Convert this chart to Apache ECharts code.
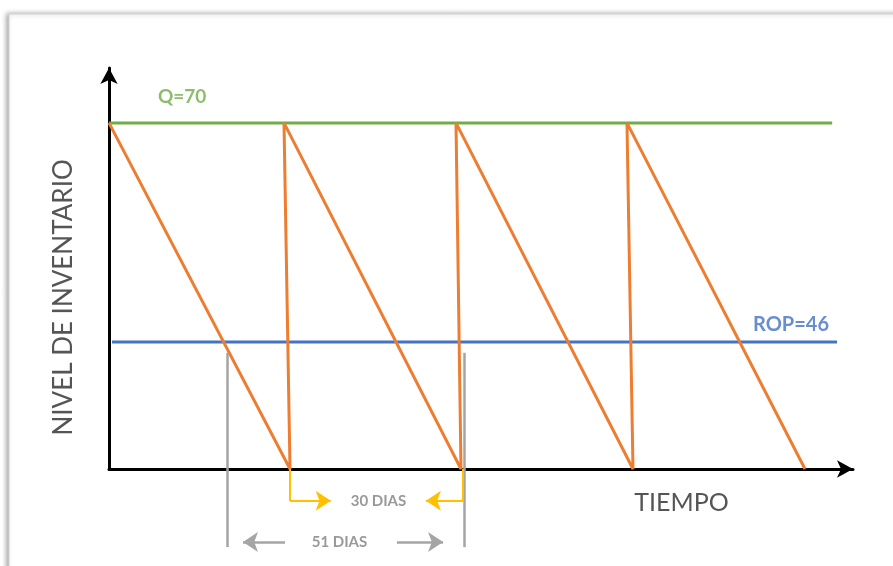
<!DOCTYPE html>
<html>
<head>
<meta charset="utf-8">
<script src="https://cdn.jsdelivr.net/npm/echarts@6/dist/echarts.min.js"></script>
<style>
html,body{margin:0;padding:0;background:#fff;}
#chart{width:893px;height:566px;}
</style>
</head>
<body>
<div id="chart"></div>
<script>
// ---- values (schematic units: Q level = 70, time axis 0..100) ----
const sawTime  = [0, 24.33, 23.52, 47.31, 46.64, 70.43, 69.62, 93.55];
const sawLevel = [70, 0, 70, 0, 70, 0, 70, 0];

const qLabel = 'Q=70';
const qLevel = 70;
const qSpan  = [0, 97.2];

const ropLabel = 'ROP=46';
const ropLevel = 25.7;          // visual height of the ROP line in the picture
const ropSpan  = [0.4, 97.85];

// lead-time markers (gray) and order-cycle markers (yellow)
const grayMarkX   = [15.86, 47.72];
const grayMarkY   = [23.5, -15.8];
const yellowMarkX = [24.33, 47.58];
const yellowMarkY = [0, -6.41];
const yellowArrowEndX = [29.8, 42.6];
const grayArrowY = -14.77;
const grayArrowsX = [[23.66, 18.01], [38.7, 44.9]];

const annoText = ['30 DIAS', '51 DIAS', 'TIEMPO'];
const annoX    = [36.22, 30.98, 76.95];
const annoY    = [-6.41, -14.77, -6.88];
const qLabelPos   = [9.83, 75.2];
const ropLabelPos = [91.67, 29.3];
const yTitle = 'NIVEL DE INVENTARIO';
const yTitlePos = [-6.05, 34.7];

const xMax = 100, yMax = 81.1;

// ---- chart ----
const chart = echarts.init(document.getElementById('chart'), null, {renderer: 'canvas'});
const FONT = 'Lato, "Open Sans", sans-serif';

function pts(xs, ys) { return xs.map((x, i) => [x, ys[i]]); }

const yellowStems = yellowMarkX.map(x => ({coords: [[x, yellowMarkY[0]], [x, yellowMarkY[1]]]}));
const yellowHeads = yellowMarkX.map((x, i) => ({coords: [[x, yellowMarkY[1]], [yellowArrowEndX[i], yellowMarkY[1]]]}));

const option = {
  animation: false,
  backgroundColor: '#fff',
  graphic: [{
    type: 'rect', z: -10, silent: true,
    shape: {x: 9, y: 14, width: 1000, height: 700},
    style: {fill: '#fff', stroke: '#d4d4d4', lineWidth: 1,
            shadowBlur: 5, shadowColor: 'rgba(0,0,0,0.35)', shadowOffsetX: -2, shadowOffsetY: 0}
  }],
  grid: {left: 109, top: 68, right: 40, bottom: 97},
  xAxis: {
    type: 'value', min: 0, max: xMax,
    axisLine: {show: true, lineStyle: {color: '#000', width: 3}, symbol: ['none', 'arrow'], symbolSize: [13, 16]},
    axisTick: {show: false}, axisLabel: {show: false}, splitLine: {show: false}
  },
  yAxis: {
    type: 'value', min: 0, max: yMax,
    axisLine: {show: true, lineStyle: {color: '#000', width: 3}, symbol: ['none', 'arrow'], symbolSize: [13, 16]},
    axisTick: {show: false}, axisLabel: {show: false}, splitLine: {show: false}
  },
  series: [
    {
      type: 'line', name: 'Q', symbol: 'none', z: 3,
      data: [[qSpan[0], qLevel], [qSpan[1], qLevel]],
      lineStyle: {color: '#70AD47', width: 3}
    },
    {
      type: 'line', name: 'ROP', symbol: 'none', z: 3,
      data: [[ropSpan[0], ropLevel], [ropSpan[1], ropLevel]],
      lineStyle: {color: '#4472C4', width: 3}
    },
    {
      type: 'lines', coordinateSystem: 'cartesian2d', clip: false, z: 2,
      symbol: ['none', 'none'],
      lineStyle: {color: '#A5A5A5', width: 2.5, opacity: 1},
      data: grayMarkX.map(x => ({coords: [[x, grayMarkY[0]], [x, grayMarkY[1]]]}))
    },
    {
      type: 'lines', coordinateSystem: 'cartesian2d', clip: false, z: 2,
      symbol: ['none', 'arrow'], symbolSize: 15,
      lineStyle: {color: '#A5A5A5', width: 2.5, opacity: 1},
      data: grayArrowsX.map(a => ({coords: [[a[0], grayArrowY], [a[1], grayArrowY]]}))
    },
    {
      type: 'lines', coordinateSystem: 'cartesian2d', clip: false, z: 2,
      symbol: ['none', 'none'],
      lineStyle: {color: '#FFC000', width: 2, opacity: 1},
      data: yellowStems
    },
    {
      type: 'lines', coordinateSystem: 'cartesian2d', clip: false, z: 2,
      symbol: ['none', 'arrow'], symbolSize: 15,
      lineStyle: {color: '#FFC000', width: 2, opacity: 1},
      data: yellowHeads
    },
    {
      type: 'line', name: 'Inventario', symbol: 'none', z: 4,
      data: pts(sawTime, sawLevel),
      lineStyle: {color: '#ED7D31', width: 3}
    },
    {
      type: 'scatter', symbolSize: 0, clip: false, z: 6,
      label: {show: true, position: 'inside', formatter: '{b}', fontFamily: FONT},
      data: [
        {name: qLabel, value: qLabelPos, label: {color: '#70AD47', fontWeight: 'bold', fontSize: 19}},
        {name: ropLabel, value: ropLabelPos, label: {color: '#4472C4', fontWeight: 'bold', fontSize: 20}},
        {name: annoText[0], value: [annoX[0], annoY[0]], label: {color: '#7F7F7F', fontWeight: 'bold', fontSize: 15}},
        {name: annoText[1], value: [annoX[1], annoY[1]], label: {color: '#7F7F7F', fontWeight: 'bold', fontSize: 15}},
        {name: annoText[2], value: [annoX[2], annoY[2]], label: {color: '#2b2b2b', fontSize: 25}},
        {name: yTitle, value: yTitlePos, label: {color: '#2b2b2b', fontSize: 26, rotate: 90}}
      ]
    }
  ]
};
chart.setOption(option);
</script>
</body>
</html>
